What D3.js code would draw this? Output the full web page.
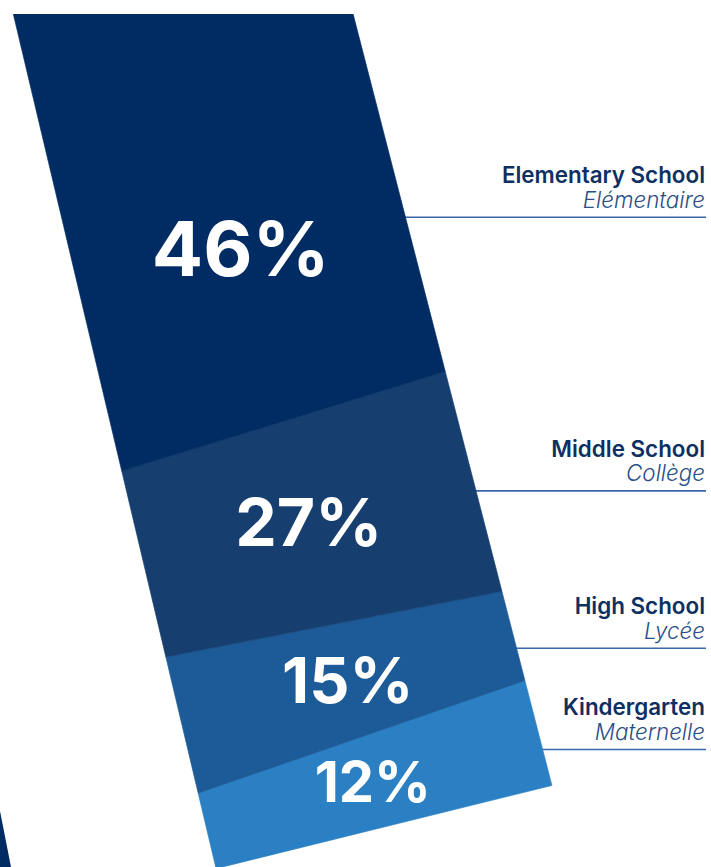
<!DOCTYPE html>
<html><head><meta charset="utf-8">
<script src="https://cdn.jsdelivr.net/npm/d3@7"></script>
<style>html,body{margin:0;padding:0;background:#fff;} svg{display:block;}</style>
</head><body><svg id="chart" width="711" height="867"></svg>
<script>
// ---- data ----
const categories   = ["Elementary School", "Middle School", "High School", "Kindergarten"];
const categoriesFr = ["Elémentaire", "Collège", "Lycée", "Maternelle"];
const shares       = [46, 27, 15, 12];
const pctLabels    = ["46%", "27%", "15%", "12%"];

// ---- styles ----
const segColors = ["#002c63", "#163f6f", "#1c5a98", "#2b80c3"];
const navy = "#0d2f62", subColor = "#2a4f86", ruleColor = "#3a68a8";
const angleDeg = -13.9;
const origin = [384, 827];            // bottom centre of the tilted bar
const boundaryTilt = [0, -15.4, 8.5, -9.5, 0]; // slight skew of each joint (bottom -> top)
const topBleed = 200;                  // top segment runs off the page

const svg = d3.select("#chart");
const W = 711, H = 867;
const rad = angleDeg * Math.PI / 180;
const toScreen = (x, y) => [origin[0] + x * Math.cos(rad) - y * Math.sin(rad),
                            origin[1] + x * Math.sin(rad) + y * Math.cos(rad)];

const y = d3.scaleLinear().domain([0, 100]).range([0, -774]);
const halfW = d3.scaleLinear().domain([0, -880]).range([173, 164.5]);
const fontSize = d3.scaleLinear().domain([12, 15, 27, 46]).range([56, 63, 66, 76]);

// stack from the bottom (Kindergarten) upward
const order = d3.range(shares.length).reverse();
let cum = 0;
const stack = order.map((i, k) => {
  const d = {i, k, c0: cum, c1: cum + shares[i]};
  cum += shares[i];
  return d;
});

function edgeY(c, k, side) {       // side -1 left, +1 right
  const t = boundaryTilt[k];
  let v = y(c);
  if (k === stack.length) v -= topBleed;
  return v + side * t;
}

// decorative edge of neighbouring bar (bottom-left)
svg.append("path")
  .attr("d", d3.line()([[0, 811], [11, 867], [0, 867]]))
  .attr("fill", "#002c63");

// rules behind bar
const rules = stack.map(d => {
  const mid = (y(d.c0) + y(d.c1)) / 2;
  const p = toScreen(halfW(mid), mid);
  return {d, ly: p[1] + 9};
});
svg.append("g").selectAll("line").data(rules).join("line")
  .attr("x1", 300).attr("x2", 706)
  .attr("y1", r => r.ly).attr("y2", r => r.ly)
  .attr("stroke", ruleColor).attr("stroke-width", 1.6);

// bar
svg.append("clipPath").attr("id", "pageClip")
  .append("rect").attr("x", -100).attr("y", 14).attr("width", W + 200).attr("height", H);

const bar = svg.append("g").attr("clip-path", "url(#pageClip)")
  .append("g")
  .attr("transform", `translate(${origin[0]},${origin[1]}) rotate(${angleDeg})`);

bar.selectAll("path").data(stack).join("path")
  .attr("d", d => {
    const yl0 = edgeY(d.c0, d.k, -1), yr0 = edgeY(d.c0, d.k, 1);
    const yl1 = edgeY(d.c1, d.k + 1, -1), yr1 = edgeY(d.c1, d.k + 1, 1);
    return d3.line()([[-halfW(yl0), yl0], [halfW(yr0), yr0], [halfW(yr1), yr1], [-halfW(yl1), yl1]]) + "Z";
  })
  .attr("fill", d => segColors[d.i])
  .attr("stroke", d => segColors[d.i]).attr("stroke-width", 0.6);

// percentage labels (upright)
svg.append("g").selectAll("text").data(stack).join("text")
  .each(function(d) {
    const mid = (y(d.c0) + y(d.c1)) / 2;
    const p = toScreen(0, mid);
    const fs = fontSize(shares[d.i]);
    d3.select(this).attr("x", p[0]).attr("y", p[1] + fs * 0.36).attr("font-size", fs);
  })
  .attr("text-anchor", "middle")
  .attr("font-family", "Inter, 'Noto Sans', sans-serif")
  .attr("font-weight", 700)
  .attr("fill", "#ffffff")
  .text(d => pctLabels[d.i]);

// category labels
const lg = svg.append("g").selectAll("g").data(rules).join("g");
lg.append("text")
  .attr("x", 705).attr("y", r => r.ly - 34)
  .attr("text-anchor", "end")
  .attr("font-family", "Inter, 'Noto Sans', sans-serif")
  .attr("font-weight", 600).attr("font-size", 22.4)
  .attr("fill", navy)
  .text(r => categories[r.d.i]);
lg.append("text")
  .attr("x", 705).attr("y", r => r.ly - 9.5)
  .attr("text-anchor", "end")
  .attr("font-family", "Inter, 'Noto Sans', sans-serif")
  .attr("font-weight", 300).attr("font-style", "italic").attr("font-size", 22.4)
  .attr("fill", subColor)
  .text(r => categoriesFr[r.d.i]);
</script>
</body></html>
